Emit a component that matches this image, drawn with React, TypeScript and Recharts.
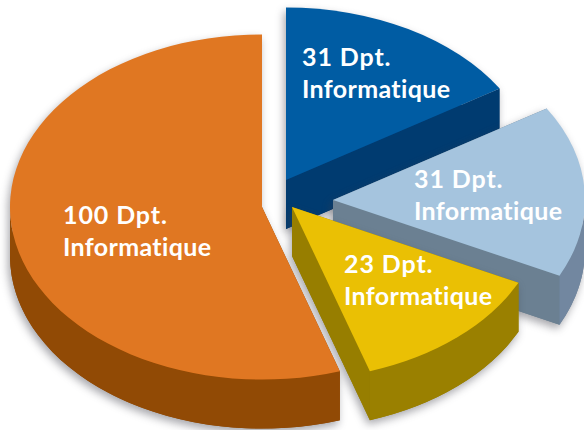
import React from "react";
import { Pie, PieChart } from "recharts";

const names = ["Dpt. Informatique A", "Dpt. Informatique B", "Dpt. Informatique C", "Dpt. Informatique D"];
// slice sizes as drawn in the picture (the drawn wedges don't follow the printed numbers exactly)
const values = [29, 29, 23, 99];
const firstLines = ["31 Dpt.", "31 Dpt.", "23 Dpt.", "100 Dpt."];
const secondLine = "Informatique";

const topColors = ["#005ca3", "#a5c4de", "#eac004", "#e07722"];
const wallColors = ["#003b70", "#6b8092", "#977e00", "#914a05"];
const rimColors = ["#003b70", "#7287a0", "#9a8000", "#914a05"];
// how far each slice is pulled out of the pie
const offsetX = [24, 71, 30, 0];
const offsetY = [-27, -7, 0, 0];
const labelX = [302, 414, 344, 63];
const labelY = [66, 188, 273, 224];

const SQUASH = 0.685;
const DEPTH = 49;

const data = values.map((value, i) => ({ name: names[i], value }));

function SliceShape(props: any) {
  const { cx, cy, outerRadius, startAngle, endAngle, index } = props;
  const x0 = cx + offsetX[index];
  const y0 = cy + offsetY[index];
  const rx = outerRadius;
  const ry = outerRadius * SQUASH;
  const pt = (deg: number, drop = 0) => {
    const a = (deg * Math.PI) / 180;
    return [x0 + rx * Math.cos(a), y0 - ry * Math.sin(a) + drop];
  };
  const [sx, sy] = pt(startAngle);
  const [ex, ey] = pt(endAngle);
  const large = Math.abs(startAngle - endAngle) > 180 ? 1 : 0;
  const top = `M${x0},${y0}L${sx},${sy}A${rx},${ry} 0 ${large} 1 ${ex},${ey}Z`;
  const base = `M${x0},${y0 + DEPTH}L${sx},${sy + DEPTH}A${rx},${ry} 0 ${large} 1 ${ex},${ey + DEPTH}Z`;
  const quad = (px: number, py: number) =>
    `M${x0},${y0}L${px},${py}L${px},${py + DEPTH}L${x0},${y0 + DEPTH}Z`;

  // front facing part of the outer rim
  const rimFrom = Math.min(startAngle, 0);
  const rimTo = Math.max(endAngle, -180);
  let rim = null;
  if (rimFrom > rimTo) {
    const [ax, ay] = pt(rimFrom);
    const [bx, by] = pt(rimTo);
    const d = `M${ax},${ay}A${rx},${ry} 0 0 1 ${bx},${by}L${bx},${by + DEPTH}A${rx},${ry} 0 0 0 ${ax},${ay + DEPTH}Z`;
    rim = <path d={d} fill={rimColors[index]} />;
  }

  return (
    <g style={{ filter: "drop-shadow(-2px 4px 4px rgba(60,60,70,0.45))" }}>
      <path d={base} fill={wallColors[index]} />
      <path d={quad(sx, sy)} fill={wallColors[index]} />
      <path d={quad(ex, ey)} fill={wallColors[index]} />
      {rim}
      <path d={top} fill={topColors[index]} />
    </g>
  );
}

function SliceLabel(props: any) {
  const { index } = props;
  return (
    <text fill="#ffffff" fontFamily="Lato, sans-serif" fontWeight={700} fontSize={25}>
      <tspan x={labelX[index]} y={labelY[index]} letterSpacing={0.9}>
        {firstLines[index]}
      </tspan>
      <tspan x={labelX[index]} y={labelY[index] + 32} letterSpacing={0.35}>
        {secondLine}
      </tspan>
    </text>
  );
}

export default function App() {
  return (
    <div style={{ position: "absolute", left: 0, top: 0, width: 584, height: 430, background: "#fff" }}>
      <PieChart width={584} height={430} margin={{ top: 0, right: 0, bottom: 0, left: 0 }}>
        <Pie
          data={data}
          dataKey="value"
          nameKey="name"
          cx={262}
          cy={207}
          innerRadius={0}
          outerRadius={252}
          startAngle={90}
          endAngle={-270}
          stroke="none"
          shape={SliceShape}
          label={SliceLabel}
          labelLine={false}
          isAnimationActive={false}
        />
      </PieChart>
    </div>
  );
}
